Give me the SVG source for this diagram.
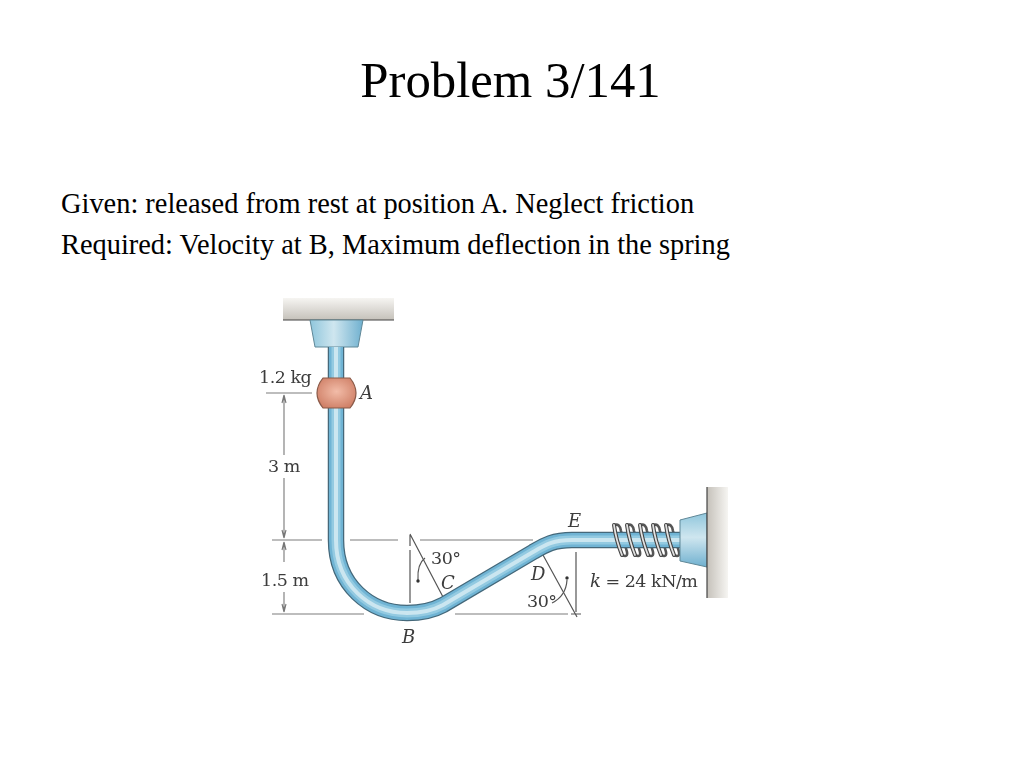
<svg xmlns="http://www.w3.org/2000/svg" width="1024" height="768" viewBox="0 0 1024 768">
<style>
.t{font-family:"Liberation Serif",serif;fill:#000}
.l{font-family:"DejaVu Serif",serif;font-size:17.500px;letter-spacing:-.5px;fill:#3c3c3c}
.i{font-style:italic;font-size:18px}
.d{fill:none;stroke:#a8a8a8;stroke-width:1.6}
.k{fill:none;stroke:#555;stroke-width:1.2}
.a{fill:none;stroke:#777;stroke-width:1.1}
</style>
<defs>
<linearGradient id="ceil" x1="0" y1="0" x2="0" y2="1"><stop offset="0" stop-color="#f6f5f2"/><stop offset="1" stop-color="#c5c1ba"/></linearGradient>
<linearGradient id="wall" x1="0" y1="0" x2="1" y2="0"><stop offset="0" stop-color="#c5c1ba"/><stop offset="1" stop-color="#f6f5f2"/></linearGradient>
<linearGradient id="mt" x1="0" y1="0" x2="1" y2="0"><stop offset="0" stop-color="#8fc6dc"/><stop offset=".45" stop-color="#cfe6ef"/><stop offset="1" stop-color="#6fb0cf"/></linearGradient>
<linearGradient id="mr" x1="0" y1="0" x2="0" y2="1"><stop offset="0" stop-color="#8fc6dc"/><stop offset=".45" stop-color="#cfe6ef"/><stop offset="1" stop-color="#6fb0cf"/></linearGradient>
<radialGradient id="col" cx=".5" cy=".45" r=".6"><stop offset="0" stop-color="#f2bca8"/><stop offset="1" stop-color="#cf7f66"/></radialGradient>
<filter id="b" x="-5%" y="-5%" width="110%" height="110%"><feGaussianBlur stdDeviation=".6"/></filter>
<path id="rc" d="M336 347V540C336 585 370 613 407 613C422 613 432 611 443 605L533 552C545 545 553 540 572 540H680"/>
<path id="back" d="M0 -15Q6 -17 7 -9L13 12Q14 18 8 15"/>
<path id="front" d="M0 -15Q2 0 8 15"/>
</defs>
<g id="title"><text class="t" x="510.500" y="97" font-size="50.800" text-anchor="middle">Problem 3/141</text></g>
<g id="body">
<text class="t" x="61" y="212.500" font-size="28.400">Given: released from rest at position A. Neglect friction</text>
<text class="t" x="61" y="253.500" font-size="28.400">Required: Velocity at B, Maximum deflection in the spring</text>
</g>
<g filter="url(#b)">
<g id="connectors">
<path class="d" d="M266 393H312M272 540H322M350 540H398M420 540H533M272 614H364M455 614H568"/>
<path class="a" d="M284 395V455M284 478V538M284 542V562M284 592V612M284 395l-2 8M284 395l2 8M284 538l-2-8M284 538l2-8M284 542l-2 8M284 542l2 8M284 612l-2-8M284 612l2-8"/>
<path class="k" d="M410 534L443 597M410 550V603M410 535V546M543 555L577 617M576 552V612M571 614H581"/>
<path class="k" d="M425 558Q417 564 418 580M567 580Q566 596 552 603"/>
<circle cx="418" cy="581" r="1.700" fill="#333"/><circle cx="567" cy="578" r="1.700" fill="#333"/>
</g>
<g id="ceiling"><rect x="283" y="298" width="111" height="22" fill="url(#ceil)"/><path d="M283 320H394" stroke="#444" stroke-width="1.200"/></g>
<g id="top-mount"><path d="M310 320H363L358 347H315Z" fill="url(#mt)" stroke="#5f8797" stroke-width="1"/></g>
<g id="spring-back" fill="none" stroke="#555" stroke-width="2.600">
<use href="#back" x="614" y="540"/><use href="#back" x="627" y="540"/><use href="#back" x="640" y="540"/><use href="#back" x="653" y="540"/><use href="#back" x="666" y="540"/>
</g>
<g id="rod">
<use href="#rc" fill="none" stroke="#44687a" stroke-width="16.500"/>
<use href="#rc" fill="none" stroke="#6fb4d4" stroke-width="14"/>
<use href="#rc" fill="none" stroke="#93cae1" stroke-width="9"/>
<use href="#rc" fill="none" stroke="#cbe6f0" stroke-width="4"/>
</g>
<g id="collar"><path d="M323 378H350Q362 393 350 408H323Q311 393 323 378Z" fill="url(#col)" stroke="#8a5a48" stroke-width="1.200"/></g>
<g id="spring" fill="none" stroke-linecap="round">
<g stroke="#444" stroke-width="4"><use href="#front" x="614" y="540"/><use href="#front" x="627" y="540"/><use href="#front" x="640" y="540"/><use href="#front" x="653" y="540"/><use href="#front" x="666" y="540"/></g>
<g stroke="#e2e2e2" stroke-width="1.800"><use href="#front" x="614" y="540"/><use href="#front" x="627" y="540"/><use href="#front" x="640" y="540"/><use href="#front" x="653" y="540"/><use href="#front" x="666" y="540"/></g>
</g>
<g id="end-mount"><path d="M707 513V567L680 561V520Z" fill="url(#mr)" stroke="#5f8797" stroke-width="1"/></g>
<g id="wall-support"><rect x="707" y="487" width="21" height="111" fill="url(#wall)"/><path d="M707 487V598" stroke="#444" stroke-width="1.200"/></g>
<g id="labels">
<text class="l" x="259" y="383">1.2 kg</text>
<text class="l i" x="360" y="399">A</text>
<text class="l" x="268" y="472">3 m</text>
<text class="l" x="261" y="586">1.5 m</text>
<text class="l" x="431" y="564">30°</text>
<text class="l i" x="441" y="589">C</text>
<text class="l i" x="402" y="643">B</text>
<text class="l i" x="531" y="580">D</text>
<text class="l i" x="568" y="527">E</text>
<text class="l" x="527" y="607">30°</text>
<text class="l" x="590" y="587"><tspan class="i">k</tspan> = 24 kN/m</text>
</g>
</g>
</svg>
